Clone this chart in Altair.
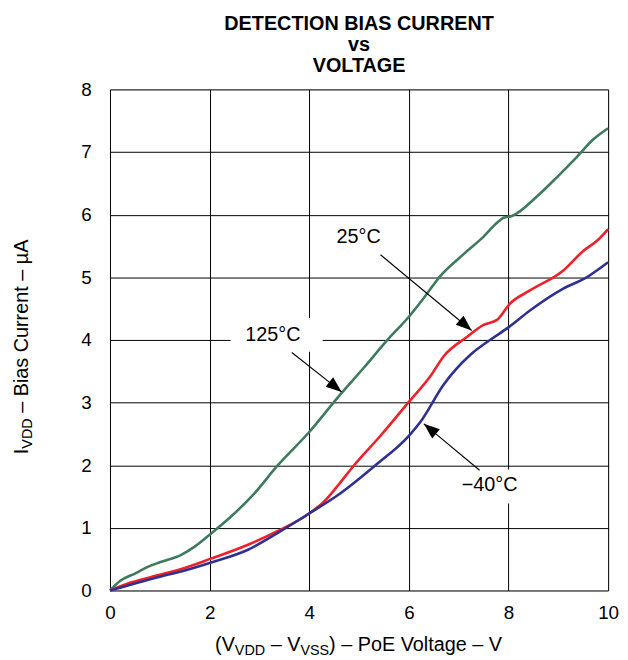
import altair as alt
import pandas as pd

# ---------------- data ----------------
volt_125 = [0, 0.1, 0.2, 0.5, 0.77, 1.0, 1.43, 1.7, 2.0, 2.43, 2.9, 3.37, 4.0, 4.57,
            5.1, 5.57, 6.0, 6.3, 6.63, 7.1, 7.5, 7.77, 7.9, 8.07, 8.57, 9.0, 9.37, 9.7, 10.0]
cur_125 = [0, 0.08, 0.15, 0.27, 0.38, 0.45, 0.57, 0.70, 0.89, 1.18, 1.55, 2.0, 2.53, 3.08,
           3.56, 4.0, 4.37, 4.67, 5.02, 5.37, 5.65, 5.87, 5.95, 5.98, 6.29, 6.62, 6.92, 7.2, 7.38]

volt_25 = [0, 0.43, 1.0, 1.5, 2.0, 2.77, 3.37, 4.0, 4.3, 4.6, 4.9, 5.43, 6.0, 6.43,
           6.7, 7.17, 7.5, 7.77, 8.03, 8.43, 9.1, 9.5, 9.8, 10.0]
cur_25 = [0, 0.13, 0.25, 0.36, 0.50, 0.73, 0.95, 1.23, 1.42, 1.70, 2.0, 2.47, 3.01, 3.42,
          3.74, 4.05, 4.24, 4.32, 4.58, 4.79, 5.11, 5.42, 5.60, 5.77]

volt_m40 = [0, 0.5, 1.0, 1.5, 2.0, 2.77, 3.37, 4.0, 4.57, 5.33, 6.0, 6.23, 6.7, 7.23,
            7.63, 8.0, 8.43, 9.1, 9.57, 10.0]
cur_m40 = [0, 0.11, 0.22, 0.32, 0.44, 0.65, 0.92, 1.23, 1.52, 2.0, 2.47, 2.69, 3.29, 3.76,
           4.0, 4.2, 4.47, 4.82, 5.0, 5.24]

series_names = ["125°C", "25°C", "−40°C"]
series_colors = ["#3e7b5c", "#f0202a", "#2e3192"]

x_ticks = [0, 2, 4, 6, 8, 10]
y_ticks = [0, 1, 2, 3, 4, 5, 6, 7, 8]

# annotation labels: text, x, y
ann_text = ["25°C", "125°C", "−40°C"]
ann_x = [4.99, 3.27, 7.62]
ann_y = [5.64, 4.08, 1.68]
# arrows: start (x, y) -> tip (x, y)
arr_x0 = [5.43, 3.65, 7.42]
arr_y0 = [5.36, 3.80, 1.92]
arr_x1 = [7.26, 4.65, 6.30]
arr_y1 = [4.15, 3.17, 2.66]
arr_angle = [130.7, 129.0, 309.3]
# white boxes behind labels (break the grid)
box_x0 = [2.42, 7.05]
box_x1 = [4.27, 8.25]
box_y0 = [3.81, 1.39]
box_y1 = [4.35, 1.93]

# ---------------- layout ----------------
W, H = 503, 506
FONT = "Liberation Sans"
NB = "\u00a0"

rows = []
for name, xs, ys in [(series_names[0], volt_125, cur_125),
                     (series_names[1], volt_25, cur_25),
                     (series_names[2], volt_m40, cur_m40)]:
    for a, b in zip(xs, ys):
        rows.append({"v": a, "i": b, "T": name})
df = pd.DataFrame(rows)

xscale = alt.Scale(domain=[0, 10], nice=False, zero=False)
yscale = alt.Scale(domain=[0, 8], nice=False, zero=False)

xaxis = alt.Axis(values=x_ticks, format="d", title=None, grid=True, gridColor="black", gridWidth=1,
                 gridOpacity=1, ticks=False, tickSize=0, domain=False, labelFontSize=19,
                 labelFont=FONT, labelColor="black", labelPadding=13, labelFlush=False,
                 labelOverlap=False)
yaxis = alt.Axis(values=y_ticks, format="d", title=None, grid=True, gridColor="black", gridWidth=1,
                 gridOpacity=1, ticks=False, tickSize=0, domain=False, labelFontSize=19,
                 labelFont=FONT, labelColor="black", labelPadding=19, labelFlush=False,
                 labelOverlap=False)

boxes = alt.Chart(pd.DataFrame({"x0": box_x0, "x1": box_x1, "y0": box_y0, "y1": box_y1})).mark_rect(
    color="white").encode(
    x=alt.X("x0:Q", scale=xscale, axis=xaxis), x2="x1:Q",
    y=alt.Y("y0:Q", scale=yscale, axis=yaxis), y2="y1:Q")

lines = alt.Chart(df).mark_line(strokeWidth=2.6, interpolate="monotone").encode(
    x=alt.X("v:Q", scale=xscale),
    y=alt.Y("i:Q", scale=yscale),
    color=alt.Color("T:N", scale=alt.Scale(domain=series_names, range=series_colors), legend=None),
    order=alt.Order("v:Q"))

labels = alt.Chart(pd.DataFrame({"t": ann_text, "x": ann_x, "y": ann_y})).mark_text(
    font=FONT, fontSize=20, color="black", baseline="middle", align="center").encode(
    x=alt.X("x:Q", scale=xscale), y=alt.Y("y:Q", scale=yscale), text="t:N")

arrows_df = pd.DataFrame({"x0": arr_x0, "y0": arr_y0, "x1": arr_x1, "y1": arr_y1, "ang": arr_angle})
arrow_lines = alt.Chart(arrows_df).mark_rule(color="black", strokeWidth=1.1).encode(
    x=alt.X("x0:Q", scale=xscale), y=alt.Y("y0:Q", scale=yscale), x2="x1:Q", y2="y1:Q")
arrow_heads = alt.Chart(arrows_df).mark_point(
    shape="M0,0L0.8,2.1L-0.8,2.1Z", filled=True, color="black", opacity=1, size=230,
    strokeWidth=0).encode(
    x=alt.X("x1:Q", scale=xscale), y=alt.Y("y1:Q", scale=yscale),
    angle=alt.Angle("ang:Q", scale=None))

# ---------------- texts with subscripts ----------------
AW = {'(': .333, ')': .333, 'V': .667, 'D': .722, 'S': .667, ' ': .278, '–': .556,
      'P': .667, 'o': .556, 'E': .667, 'l': .222, 't': .278, 'a': .556, 'g': .556, 'e': .556,
      'I': .278, 'B': .667, 'i': .222, 's': .5, 'C': .722, 'u': .556, 'r': .333, 'n': .556,
      'µ': .576, 'A': .667}


def tw(s, size):
    return sum(AW.get(c, .556) for c in s) * size


MAIN, SUB, SUBDROP = 20, 14.5, 4
SP = AW[' '] * MAIN
text_layers = []


def piece(txt, x, y, size, angle=0, bold=False, align="left"):
    kw = dict(text=txt, font=FONT, fontSize=size, color="black", align=align,
              baseline="alphabetic")
    if angle:
        kw["angle"] = angle
    if bold:
        kw["fontWeight"] = "bold"
    return alt.Chart(pd.DataFrame({"k": [0]})).mark_text(**kw).encode(
        x=alt.value(x), y=alt.value(y))


# (text, is_subscript, leading gap in px)
x_title = [("(V", False, 0), ("VDD", True, 0), ("– V", False, SP), ("VSS", True, 0),
           (") – PoE Voltage – V", False, 0)]
total = sum(g + tw(s, SUB if sub else MAIN) for s, sub, g in x_title)
cx = W / 2 - total / 2
base_x = 567
for s, sub, g in x_title:
    size = SUB if sub else MAIN
    cx += g
    text_layers.append(piece(s, cx, base_x + (SUBDROP if sub else 0), size))
    cx += tw(s, size)

y_title = [("I", False, 0), ("VDD", True, 0), ("– Bias Current – µA", False, SP)]
total = sum(g + tw(s, SUB if sub else MAIN) for s, sub, g in y_title)
cy = 260 + total / 2
base_y = -83
for s, sub, g in y_title:
    size = SUB if sub else MAIN
    cy -= g
    text_layers.append(piece(s, base_y + (SUBDROP if sub else 0), cy, size, angle=270))
    cy -= tw(s, size)

for txt, yy in [("DETECTION BIAS CURRENT", -60), ("vs", -39), ("VOLTAGE", -18)]:
    text_layers.append(piece(txt, W / 2, yy, 20, bold=True, align="center"))

chart = alt.layer(boxes, lines, labels, arrow_lines, arrow_heads, *text_layers).properties(
    width=W, height=H,
    autosize=alt.AutoSizeParams(type="none"),
    padding={"left": 103, "top": 79, "right": 12, "bottom": 66},
).configure_view(stroke="black", strokeWidth=2.2).configure(background="white")

chart.save("out.html", embed_options={"renderer": "svg", "actions": False})
